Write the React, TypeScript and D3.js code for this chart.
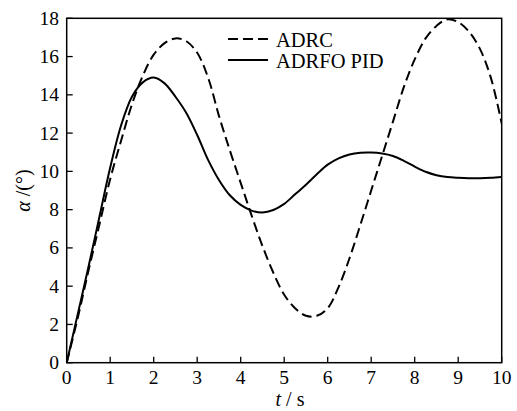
import React from "react";
import * as d3 from "d3";

const times = [
  0, 0.25, 0.5, 0.75, 1, 1.25, 1.5, 1.75, 2, 2.25, 2.5, 2.75, 3, 3.25, 3.5, 3.75, 4, 4.25, 4.5, 4.75,
  5, 5.25, 5.5, 5.75, 6, 6.25, 6.5, 6.75, 7, 7.25, 7.5, 7.75, 8, 8.25, 8.5, 8.75, 9, 9.25, 9.5, 9.75, 10,
];

const adrc = [
  0, 2.3, 4.8, 7.2, 9.6, 11.6, 13.5, 15.0, 16.1, 16.7, 16.95, 16.8, 16.2, 14.9, 12.9, 11.1, 9.4, 7.7, 6.1, 4.7,
  3.55, 2.85, 2.45, 2.45, 2.85, 3.95, 5.45, 7.2, 9.0, 10.8, 12.6, 14.4, 15.85, 16.95, 17.6, 17.95, 17.8, 17.3, 16.4, 14.9,
  12.5,
];

const adrfoPid = [
  0, 2.5, 5.0, 7.6, 10.2, 12.4, 13.9, 14.65, 14.9, 14.6, 13.9, 13.05, 11.9, 10.6, 9.55, 8.75, 8.25, 7.95, 7.85, 7.98,
  8.3, 8.8, 9.3, 9.85, 10.35, 10.68, 10.88, 10.97, 10.98, 10.93, 10.8, 10.55, 10.25, 9.98, 9.8, 9.7, 9.66, 9.64, 9.64, 9.66,
  9.7,
];

const xTicks = [0, 1, 2, 3, 4, 5, 6, 7, 8, 9, 10];
const yTicks = [0, 2, 4, 6, 8, 10, 12, 14, 16, 18];

const seriesNames = ["ADRC", "ADRFO PID"];

export default function App() {
  const W = 517;
  const H = 411;
  const left = 66.7;
  const right = 501.7;
  const top = 18.3;
  const bottom = 362.7;
  const x = d3.scaleLinear().domain([0, 10]).range([left, right]);
  const y = d3.scaleLinear().domain([0, 18]).range([bottom, top]);
  const line = d3
    .line<number>()
    .x((_, i) => x(times[i]))
    .y((d) => y(d))
    .curve(d3.curveCatmullRom.alpha(0.5));
  const tf: React.CSSProperties = { fontFamily: "'Liberation Serif', 'DejaVu Serif', serif" };

  return (
    <svg
      width={W}
      height={H}
      style={{ position: "absolute", left: 0, top: 0, background: "#fff" }}
    >
      <defs>
        <clipPath id="plot">
          <rect x={left} y={top - 2} width={right - left} height={bottom - top + 2} />
        </clipPath>
      </defs>
      <g clipPath="url(#plot)">
        <path d={line(adrc) || ""} fill="none" stroke="#000" strokeWidth={2} strokeDasharray="10,5" />
        <path d={line(adrfoPid) || ""} fill="none" stroke="#000" strokeWidth={2} />
      </g>
      <rect x={left} y={top} width={right - left} height={bottom - top} fill="none" stroke="#000" strokeWidth={1.5} />
      {xTicks.map((t) => (
        <g key={"x" + t}>
          <line x1={x(t)} x2={x(t)} y1={bottom} y2={bottom - 6} stroke="#000" strokeWidth={1.3} />
          <text x={x(t)} y={383.5} fontSize={19.5} textAnchor="middle" style={tf}>
            {t}
          </text>
        </g>
      ))}
      {yTicks.map((v) => (
        <g key={"y" + v}>
          <line x1={left} x2={left + 6} y1={y(v)} y2={y(v)} stroke="#000" strokeWidth={1.3} />
          <text x={59} y={y(v) + 6.5} fontSize={19.5} textAnchor="end" style={tf}>
            {v}
          </text>
        </g>
      ))}
      <text x={290} y={406} fontSize={20} textAnchor="middle" style={tf}>
        <tspan fontStyle="italic">t</tspan>
        <tspan> / s</tspan>
      </text>
      <text
        transform={`translate(30,${(top + bottom) / 2}) rotate(-90)`}
        fontSize={20}
        textAnchor="middle"
        style={tf}
      >
        <tspan fontStyle="italic">α</tspan>
        <tspan> /(°)</tspan>
      </text>
      <g>
        <line x1={228} x2={268} y1={39} y2={39} stroke="#000" strokeWidth={2} strokeDasharray="10,5" />
        <text x={276} y={46.5} fontSize={20.5} style={tf}>
          {seriesNames[0]}
        </text>
        <line x1={228} x2={268} y1={60} y2={60} stroke="#000" strokeWidth={2} />
        <text x={276} y={68} fontSize={20.5} style={tf}>
          {seriesNames[1]}
        </text>
      </g>
    </svg>
  );
}
